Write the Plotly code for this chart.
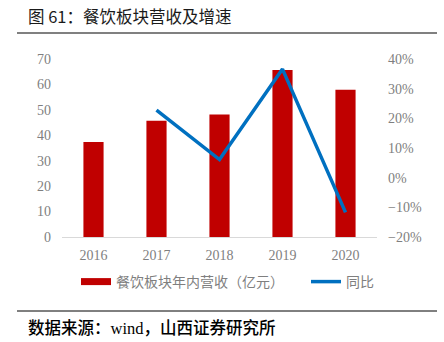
import plotly.graph_objects as go

years = ["2016", "2017", "2018", "2019", "2020"]
revenue = [37.4, 45.7, 48.2, 65.7, 57.9]
yoy_years = ["2017", "2018", "2019", "2020"]
yoy = [0.228, 0.061, 0.366, -0.117]

bar_name = "餐饮板块年内营收（亿元）"
line_name = "同比"
title_text = "图 61：餐饮板块营收及增速"
source_parts = ("数据来源：", "wind", "，山西证券研究所")

W, H = 444, 342
L, R, T, B = 62, 67, 59, 105
pw, ph = W - L - R, H - T - B

def px(x):
    return (x - L) / pw

def py(y):
    return (H - B - y) / ph

RED = "#C00000"
BLUE = "#0070C0"
GREY = "#7F7F7F"
CJK = "Noto Sans CJK SC"
SERIF = "Liberation Serif"

fig = go.Figure()
fig.add_trace(go.Bar(x=years, y=revenue, name=bar_name, marker_color=RED,
                     marker_line_width=0, width=0.32, showlegend=False))
# legend proxy for the bar series (wide rectangle like the original)
fig.add_trace(go.Scatter(x=[None], y=[None], mode="lines", name=bar_name,
                         line=dict(color=RED, width=7), legend="legend"))
fig.add_trace(go.Scatter(x=yoy_years, y=yoy, mode="lines", name=line_name,
                         line=dict(color=BLUE, width=3.5), yaxis="y2", legend="legend2"))

legend_common = dict(orientation="h", xanchor="left", y=py(282), yanchor="middle",
                     font=dict(family=CJK, size=14, color=GREY), bgcolor="rgba(0,0,0,0)")

fig.update_layout(
    width=W, height=H,
    margin=dict(l=L, r=R, t=T, b=B, pad=0),
    paper_bgcolor="white", plot_bgcolor="white",
    font=dict(family=SERIF, size=14, color=GREY),
    xaxis=dict(type="category", showgrid=False, showline=True, linecolor="#D9D9D9",
               linewidth=1, ticks="", tickfont=dict(family=SERIF, size=14, color=GREY),
               ticklabelstandoff=5),
    yaxis=dict(range=[0, 70], dtick=10, showgrid=False, zeroline=False, showline=False,
               ticks="", tickfont=dict(family=SERIF, size=14, color=GREY),
               ticklabelstandoff=10),
    yaxis2=dict(range=[-0.2, 0.4], dtick=0.1, tickformat=".0%", overlaying="y", side="right",
                showgrid=False, zeroline=False, showline=False, ticks="",
                tickfont=dict(family=SERIF, size=14, color=GREY), ticklabelstandoff=10),
    legend=dict(x=px(76), **legend_common),
    legend2=dict(x=px(306), **legend_common),
    showlegend=True,
    bargap=0.5,
)

fig.add_annotation(text=title_text, xref="paper", yref="paper", x=px(26), y=py(16),
                   xanchor="left", yanchor="middle", showarrow=False,
                   font=dict(family=CJK, size=16.5, color="#1a1a1a"))
source_html = (source_parts[0]
               + "<span style='font-family:" + SERIF + "'>" + source_parts[1] + "</span>"
               + source_parts[2])
fig.add_annotation(text=source_html, xref="paper", yref="paper", x=px(26), y=py(327),
                   xanchor="left", yanchor="middle", showarrow=False,
                   font=dict(family=CJK, size=16.5, color="#000000", weight=500))
fig.add_shape(type="line", xref="paper", yref="paper", x0=px(17), x1=px(437),
              y0=py(33), y1=py(33), line=dict(color="#808080", width=2))
fig.add_shape(type="line", xref="paper", yref="paper", x0=px(17), x1=px(437),
              y0=py(311), y1=py(311), line=dict(color="#000000", width=1))

fig.write_html("out.html")
